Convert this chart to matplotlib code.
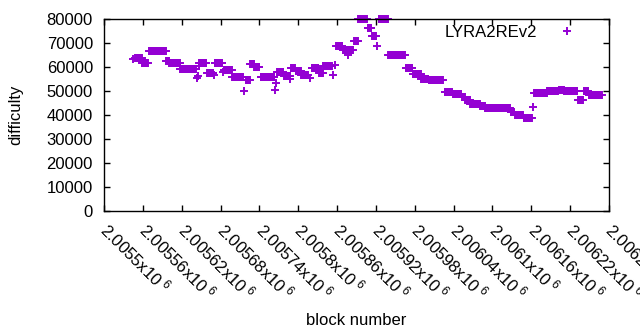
import numpy as np
import matplotlib
matplotlib.use('Agg')
import matplotlib.pyplot as plt

plt.rcParams['font.family'] = ['Liberation Sans', 'DejaVu Sans']
plt.rcParams['font.size'] = 12
plt.rcParams['mathtext.fontset'] = 'custom'
plt.rcParams['mathtext.rm'] = 'Liberation Sans'
plt.rcParams['mathtext.it'] = 'Liberation Sans'

# runs of equal difficulty: first block, last block, difficulty
run_start = [2005545, 2005548, 2005559, 2005570, 2005596, 2005601, 2005618, 2005643, 2005645,
             2005646, 2005647, 2005659, 2005670, 2005671, 2005684, 2005686, 2005698, 2005716,
             2005719, 2005726, 2005732, 2005742, 2005764, 2005765, 2005767, 2005778, 2005788,
             2005789, 2005796, 2005805, 2005818, 2005821, 2005832, 2005839, 2005854, 2005857,
             2005859, 2005869, 2005877, 2005878, 2005886, 2005893, 2005907, 2005914, 2005921,
             2005924, 2005926, 2005939, 2005966, 2005977, 2005990, 2006002, 2006026, 2006039,
             2006053, 2006058, 2006066, 2006081, 2006089, 2006109, 2006128, 2006135, 2006148,
             2006163, 2006164, 2006185, 2006202, 2006211, 2006232, 2006241, 2006249]
run_end = [2005545, 2005558, 2005568, 2005595, 2005600, 2005617, 2005642, 2005643, 2005645,
           2005646, 2005658, 2005669, 2005670, 2005683, 2005684, 2005697, 2005714, 2005716,
           2005725, 2005731, 2005740, 2005763, 2005764, 2005765, 2005777, 2005787, 2005788,
           2005795, 2005804, 2005815, 2005818, 2005831, 2005838, 2005852, 2005854, 2005857,
           2005868, 2005876, 2005877, 2005884, 2005892, 2005906, 2005913, 2005920, 2005921,
           2005925, 2005938, 2005965, 2005976, 2005989, 2006001, 2006023, 2006038, 2006052,
           2006057, 2006065, 2006080, 2006088, 2006108, 2006127, 2006134, 2006147, 2006161,
           2006163, 2006184, 2006201, 2006210, 2006231, 2006240, 2006248, 2006269]
run_diff = [63400, 64000, 62000, 66800, 62800, 61600, 59100, 55500, 56300,
            60500, 62000, 57800, 56800, 61600, 58200, 58700, 56000, 50100,
            54700, 61400, 60100, 56000, 50500, 53300, 58200, 56400, 55100,
            59900, 58500, 56800, 55500, 59900, 57800, 60500, 56800, 61000,
            68900, 67200, 65100, 67200, 71000, 80000, 76400, 73000, 68900,
            80000, 80000, 65100, 59700, 57400, 55100, 54700, 49700, 48700,
            47600, 46400, 44700, 43900, 43200, 43000, 41400, 40100, 38900,
            43400, 49500, 50100, 50500, 50100, 46400, 50100, 48400]

blocks = np.concatenate([np.arange(s, e + 1) for s, e in zip(run_start, run_end)])
difficulty = np.concatenate([np.full(e - s + 1, d) for s, e, d in zip(run_start, run_end, run_diff)])

x_ticks = np.arange(2005500, 2006281, 60)
x_labels = ['%gx10$^{\\ 6}$' % (t / 1e6) for t in x_ticks]

fig = plt.figure(figsize=(6.4, 3.3), dpi=100)
ax = fig.add_axes([104 / 640, 1 - 211.3 / 330, 505 / 640, 192 / 330])

ax.plot(blocks, difficulty, linestyle='none', marker='+', color='#9400d3',
        markersize=6, markeredgewidth=1.4, clip_on=False, label='LYRA2REv2')

ax.set_xlim(2005500, 2006280)
ax.set_ylim(0, 80000)
ax.set_yticks(np.arange(0, 80001, 10000))
ax.set_xticks(x_ticks)
ax.set_xticklabels(x_labels, rotation=-45, ha='left', va='center', rotation_mode='anchor')
ax.tick_params(direction='in', length=4.5, width=1, top=True, right=True, pad=8)
ax.tick_params(axis='x', pad=11)
for s in ax.spines.values():
    s.set_linewidth(1)

ax.set_ylabel('difficulty', labelpad=17)
ax.set_xlabel('block number', labelpad=7)

ax.legend(loc='upper right', markerfirst=False, frameon=False, borderpad=0,
          borderaxespad=0, handletextpad=0.8, handlelength=2,
          bbox_to_anchor=(584 / 640, 1 - 25 / 330), bbox_transform=fig.transFigure)

fig.savefig('out.png', dpi=100)
